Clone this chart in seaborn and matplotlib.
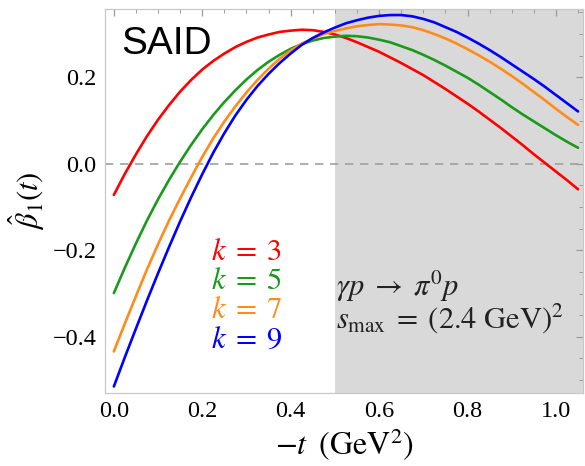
import matplotlib
matplotlib.use("Agg")
import matplotlib.pyplot as plt
import matplotlib.ticker as mticker
import seaborn as sns
import pandas as pd

# -t values (GeV^2) at which the curves are tabulated
t_vals = [0.000, 0.025, 0.050, 0.075, 0.100, 0.125, 0.150, 0.175, 0.200, 0.225,
          0.250, 0.275, 0.300, 0.325, 0.350, 0.375, 0.400, 0.425, 0.450, 0.475,
          0.500, 0.525, 0.550, 0.575, 0.600, 0.625, 0.650, 0.675, 0.700, 0.725,
          0.750, 0.775, 0.800, 0.825, 0.850, 0.875, 0.900, 0.925, 0.950, 0.975,
          1.000, 1.025, 1.050]

# beta_1 hat for the different truncation orders k
beta_k3 = [-0.072, -0.023, 0.022, 0.064, 0.102, 0.136, 0.167, 0.194, 0.218, 0.238,
           0.255, 0.270, 0.282, 0.292, 0.299, 0.305, 0.308, 0.310, 0.309, 0.305,
           0.299, 0.291, 0.281, 0.270, 0.259, 0.246, 0.233, 0.219, 0.205, 0.189,
           0.173, 0.156, 0.139, 0.121, 0.102, 0.083, 0.063, 0.043, 0.022, 0.002,
           -0.018, -0.038, -0.059]
beta_k5 = [-0.299, -0.240, -0.184, -0.131, -0.082, -0.037, 0.005, 0.044, 0.080, 0.113,
           0.143, 0.170, 0.195, 0.217, 0.236, 0.252, 0.266, 0.277, 0.285, 0.291,
           0.294, 0.296, 0.295, 0.292, 0.287, 0.281, 0.272, 0.263, 0.252, 0.240,
           0.227, 0.213, 0.199, 0.183, 0.166, 0.149, 0.131, 0.114, 0.098, 0.082,
           0.066, 0.051, 0.037]
beta_k7 = [-0.434, -0.369, -0.306, -0.244, -0.186, -0.131, -0.080, -0.031, 0.016, 0.059,
           0.098, 0.133, 0.165, 0.194, 0.220, 0.243, 0.262, 0.278, 0.290, 0.300,
           0.307, 0.313, 0.318, 0.321, 0.323, 0.322, 0.320, 0.316, 0.309, 0.300,
           0.290, 0.278, 0.265, 0.251, 0.236, 0.220, 0.203, 0.185, 0.166, 0.147,
           0.127, 0.108, 0.090]
beta_k9 = [-0.515, -0.447, -0.381, -0.316, -0.253, -0.192, -0.133, -0.077, -0.024, 0.026,
           0.071, 0.112, 0.148, 0.180, 0.208, 0.233, 0.255, 0.275, 0.291, 0.304,
           0.315, 0.325, 0.332, 0.338, 0.342, 0.344, 0.344, 0.341, 0.335, 0.327,
           0.316, 0.305, 0.292, 0.278, 0.263, 0.247, 0.230, 0.213, 0.196, 0.178,
           0.159, 0.140, 0.121]

k_labels = ["3", "5", "7", "9"]
k_colors = ["#ff0000", "#1a9a1a", "#ff8c1a", "#0000ff"]

series = [beta_k3, beta_k5, beta_k7, beta_k9]
df = pd.concat(
    [pd.DataFrame({"t": t_vals, "beta": vals, "k": k}) for k, vals in zip(k_labels, series)],
    ignore_index=True,
)

sns.set_theme(style="white")
plt.rcParams["font.family"] = ["Liberation Serif", "DejaVu Serif"]
plt.rcParams["mathtext.fontset"] = "stix"

fig = plt.figure(figsize=(5.85, 4.66), dpi=100)
ax = fig.add_axes([0.1795, 0.1567, 0.817, 0.824])

# region beyond the fit range
ax.axvspan(0.5, 1.2, color="#d9d9d9", lw=0, zorder=0)
ax.axhline(0.0, color="#a0a0a0", lw=1.2, ls=(0, (5, 4)), zorder=1)

sns.lineplot(data=df, x="t", y="beta", hue="k", palette=dict(zip(k_labels, k_colors)),
             lw=1.9, legend=False, ax=ax, zorder=3)
for ln in ax.get_lines():
    ln.set_solid_joinstyle("round")

ax.set_xlim(-0.02, 1.061)
ax.set_ylim(-0.53, 0.358)
ax.set_xticks([0.0, 0.2, 0.4, 0.6, 0.8, 1.0])
ax.set_yticks([-0.4, -0.2, 0.0, 0.2])
ax.xaxis.set_minor_locator(mticker.MultipleLocator(0.05))
ax.yaxis.set_minor_locator(mticker.MultipleLocator(0.05))
ax.xaxis.set_major_formatter(mticker.FormatStrFormatter("%.1f"))
ax.yaxis.set_major_formatter(mticker.FuncFormatter(
    lambda v, p: ("\u2212%.1f" % abs(v)) if v < -1e-9 else "%.1f" % abs(v)))

ax.tick_params(which="both", direction="in", top=True, right=True, color="#9a9a9a",
               labelsize=17.5, labelcolor="black", pad=6)
ax.tick_params(which="major", length=5, width=0.9)
ax.tick_params(which="minor", length=3, width=0.7)
for s in ax.spines.values():
    s.set_color("#c8c8c8")
    s.set_linewidth(0.9)

ax.set_xlabel(r"$-t\;\;(\mathrm{GeV}^2)$", fontsize=23, color="black", labelpad=3)
ax.set_ylabel(r"$\hat{\beta}_1(t)$", fontsize=22, color="black", labelpad=4)

ax.text(0.035, 0.955, "SAID", transform=ax.transAxes, fontsize=28,
        family="Liberation Sans", va="top", ha="left", color="black")

for i, (k, c) in enumerate(zip(k_labels, k_colors)):
    ax.text(0.222, 0.365 - i * 0.0755, r"$k\;=\;%s$" % k, transform=ax.transAxes,
            fontsize=22, color=c, ha="left", va="center")

ax.text(0.483, 0.278, r"$\gamma p \;\rightarrow\; \pi^0 p$", transform=ax.transAxes,
        fontsize=22, color="#222222", ha="left", va="center")
ax.text(0.483, 0.196, r"$s_{\mathrm{max}}\;=\;(2.4\ \mathrm{GeV})^2$", transform=ax.transAxes,
        fontsize=22, color="#222222", ha="left", va="center")

fig.savefig("out.png", dpi=100)
